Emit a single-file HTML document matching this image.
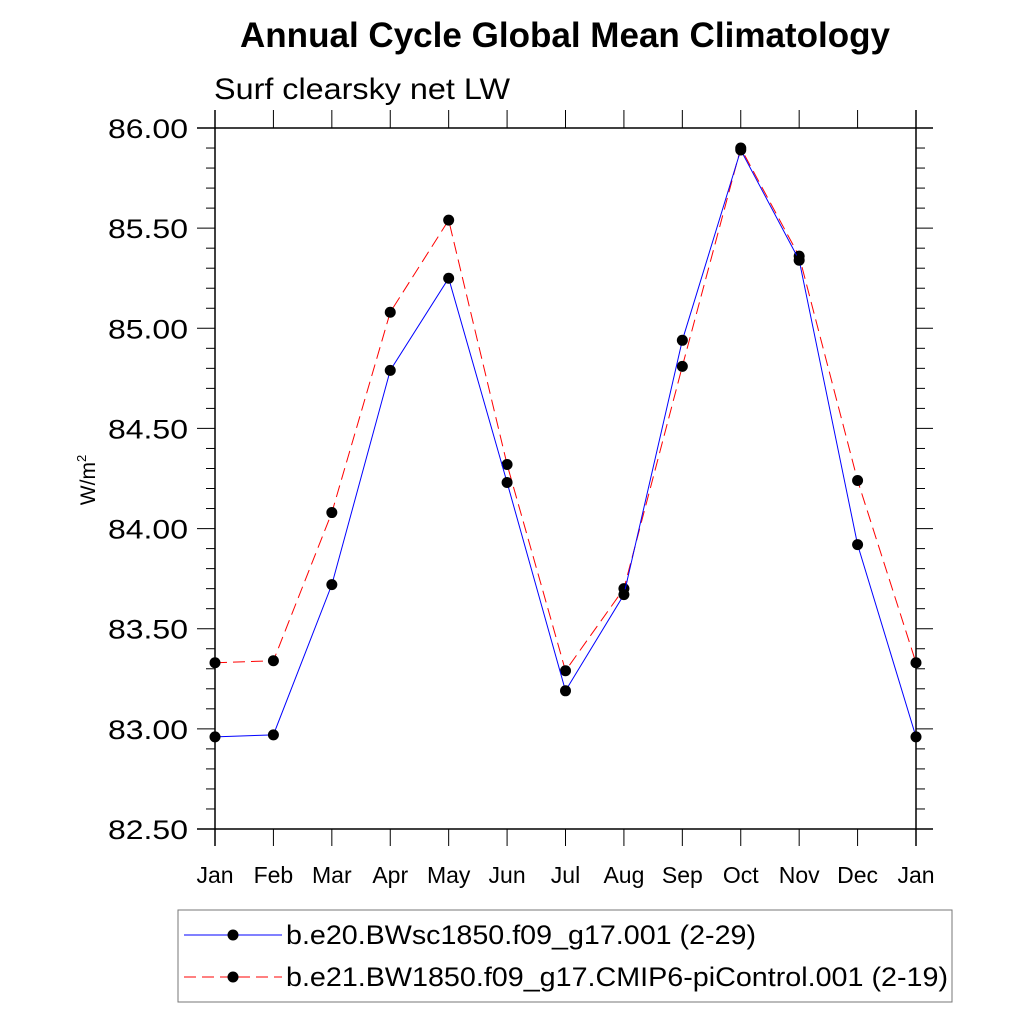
<!DOCTYPE html>
<html><head><meta charset="utf-8"><style>body{margin:0;background:#fff}svg{display:block}text{font-family:"Liberation Sans",sans-serif}</style></head>
<body>
<svg id="c" width="1024" height="1024" viewBox="0 0 1024 1024">
<text x="565" y="47" font-size="35" font-weight="bold" text-anchor="middle" textLength="650" lengthAdjust="spacingAndGlyphs">Annual Cycle Global Mean Climatology</text>
<text x="214" y="99" font-size="30" textLength="296" lengthAdjust="spacingAndGlyphs">Surf clearsky net LW</text>
<text transform="translate(95,480) rotate(-90)" font-size="21" text-anchor="middle">W/m<tspan font-size="13" dy="-9">2</tspan></text>
<g id="axes"></g><g id="series"></g>
<rect x="178" y="910" width="774" height="92" fill="#fff" stroke="#777" stroke-width="1"/>
<g><line x1="184" y1="935" x2="282" y2="935" stroke="#00f" stroke-width="1"/><circle cx="233" cy="935" r="5.5"/><text x="286" y="944" font-size="27" textLength="470" lengthAdjust="spacingAndGlyphs">b.e20.BWsc1850.f09_g17.001 (2-29)</text></g>
<g><line x1="184" y1="977" x2="282" y2="977" stroke="#f00" stroke-width="1" stroke-dasharray="12,6"/><circle cx="233" cy="977" r="5.5"/><text x="286" y="986" font-size="27" textLength="662" lengthAdjust="spacingAndGlyphs">b.e21.BW1850.f09_g17.CMIP6-piControl.001 (2-19)</text></g>
</svg>
<script>
const months=["Jan","Feb","Mar","Apr","May","Jun","Jul","Aug","Sep","Oct","Nov","Dec","Jan"];
const blueValues=[82.96,82.97,83.72,84.79,85.25,84.23,83.19,83.67,84.94,85.89,85.34,83.92,82.96];
const redValues=[83.33,83.34,84.08,85.08,85.54,84.32,83.29,83.70,84.81,85.90,85.36,84.24,83.33];
const yTicks=[82.5,83.0,83.5,84.0,84.5,85.0,85.5,86.0];
const NS="http://www.w3.org/2000/svg";
const X0=215,X1=916,Y0=829,Y1=128,YMIN=82.5,YMAX=86;
const xs=i=>X0+(X1-X0)*i/(months.length-1);
const ys=v=>Y0-(v-YMIN)/(YMAX-YMIN)*(Y0-Y1);
function mk(t,a,p){const e=document.createElementNS(NS,t);for(const k in a)e.setAttribute(k,a[k]);p.appendChild(e);return e;}
const ax=document.getElementById('axes');
let l;
l=mk('line',{x1:197,y1:Y1,x2:933,y2:Y1,stroke:'#000','stroke-width':1.5},ax);


l=mk('line',{x1:197,y1:Y0,x2:933,y2:Y0,stroke:'#000','stroke-width':1.5},ax);


l=mk('line',{x1:X0,y1:110,x2:X0,y2:846,stroke:'#000','stroke-width':1.5},ax);


l=mk('line',{x1:X1,y1:110,x2:X1,y2:846,stroke:'#000','stroke-width':1.5},ax);


for(let v=82.5;v<=86.001;v+=0.1){const y=ys(v);const major=Math.abs(v*2-Math.round(v*2))<1e-6;
 mk('line',{x1:major?197:206,y1:y,x2:X0,y2:y,stroke:'#000','stroke-width':1},ax);
 mk('line',{x1:X1,y1:y,x2:major?933:925,y2:y,stroke:'#000','stroke-width':1},ax);}
yTicks.forEach(v=>{const t=mk('text',{x:188,y:ys(v)+10,'font-size':27,'text-anchor':'end',textLength:80,lengthAdjust:'spacingAndGlyphs'},ax);t.textContent=v.toFixed(2);
 
 });
months.forEach((m,i)=>{const x=xs(i);mk('line',{x1:x,y1:110,x2:x,y2:Y1,stroke:'#000'},ax);mk('line',{x1:x,y1:Y0,x2:x,y2:846,stroke:'#000'},ax);
 const t=mk('text',{x:x,y:883,'font-size':23,'text-anchor':'middle'},ax);t.textContent=m;
 
 });
const sg=document.getElementById('series');
function series(vals,color,dash,name){
 const p=mk('polyline',{points:vals.map((v,i)=>xs(i)+','+ys(v)).join(' '),fill:'none',stroke:color,'stroke-width':1,'stroke-dasharray':dash},sg);
 
 
 vals.forEach((v,i)=>{const c=mk('circle',{cx:xs(i),cy:ys(v),r:5.5,fill:'#000'},sg);
 
 });}
series(redValues,'#f00','12,6','red-series');
series(blueValues,'#00f','none','blue-series');
</script>
</body></html>
